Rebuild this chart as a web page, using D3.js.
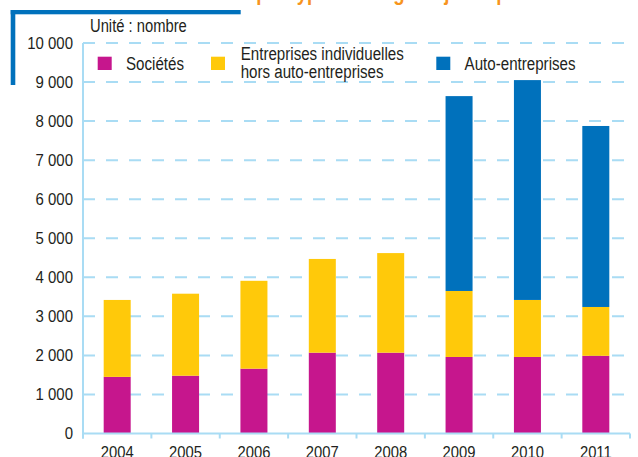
<!DOCTYPE html>
<html>
<head>
<meta charset="utf-8">
<script src="https://cdn.jsdelivr.net/npm/d3@7"></script>
<style>
    body { margin: 0; background: #fff; }
    svg { display: block; font-family: "Liberation Sans", Arial, sans-serif; }
</style>
</head>
<body>
<div id="chart"></div>
<script>
// Data (Unité : nombre)
var years            = ["2004", "2005", "2006", "2007", "2008", "2009", "2010", "2011"];
var societes         = [1450, 1480, 1660, 2070, 2070, 1960, 1960, 1990];
var entreprisesIndiv = [1970, 2100, 2250, 2400, 2550, 1690, 1460, 1250];
var autoEntreprises  = [0, 0, 0, 0, 0, 4990, 5630, 4635];
var yTicks           = [0, 1000, 2000, 3000, 4000, 5000, 6000, 7000, 8000, 9000, 10000];
var seriesKeys       = ["societes", "indiv", "auto"];
var seriesLabels     = [["Sociétés"], ["Entreprises individuelles", "hors auto-entreprises"], ["Auto-entreprises"]];
var titleText        = "Évolution des créations par type et catégorie juridique";
var unitText         = "Unité : nombre";

var colors = {societes: "#c6168d", indiv: "#ffc90a", auto: "#0071bc"};
var lightBlue = "#a9dcf4";
var textColor = "#231f20";

var width = 638, height = 457;
var margin = {top: 43, right: 8, bottom: 23, left: 83};

var svg = d3.select("#chart").append("svg")
    .attr("width", width)
    .attr("height", height);

// table for the stack layout
var table = years.map(function(y, i) {
    return {year: y, societes: societes[i], indiv: entreprisesIndiv[i], auto: autoEntreprises[i]};
});
var stacked = d3.stack().keys(seriesKeys)(table);

var x = d3.scaleBand()
    .domain(years)
    .range([margin.left, width - margin.right])
    .paddingInner(0.605)
    .paddingOuter(0.3025);

var y = d3.scaleLinear()
    .domain([0, 10000])
    .range([height - margin.bottom - 0.5, margin.top]);

var fr = d3.formatLocale({decimal: ",", thousands: " ", grouping: [3], currency: ["", "€"]});

// The original uses a narrow sans; squeeze each text horizontally instead.
function condense(sel, k) {
    sel.each(function() {
        var len = this.getComputedTextLength();
        d3.select(this)
            .attr("textLength", len * k)
            .attr("lengthAdjust", "spacingAndGlyphs");
    });
}

//Title (cut off at the top of the picture)
svg.append("text")
    .attr("x", 40)
    .attr("y", 0)
    .attr("fill", "#f7941d")
    .attr("font-weight", "bold")
    .attr("font-size", 22)
    .text(titleText)
    .call(condense, 0.85);

//Blue corner mark
svg.append("rect").attr("x", 10.7).attr("y", 10).attr("width", 4.6).attr("height", 75).attr("fill", "#0071bc");
svg.append("rect").attr("x", 10.7).attr("y", 10).attr("width", 230).attr("height", 4.3).attr("fill", "#0071bc");

//Unit label
svg.append("text")
    .attr("x", 90)
    .attr("y", 31.5)
    .attr("font-size", 18)
    .attr("fill", textColor)
    .text(unitText)
    .call(condense, 0.82);

//Dashed gridlines
svg.append("g").selectAll("line")
    .data(yTicks.filter(function(d) { return d > 0; }))
    .join("line")
    .attr("x1", margin.left)
    .attr("x2", width - margin.right)
    .attr("y1", function(d) { return y(d); })
    .attr("y2", function(d) { return y(d); })
    .attr("stroke", lightBlue)
    .attr("stroke-width", 2)
    .attr("stroke-dasharray", "12,11");

//Y axis labels
var yAxis = d3.axisLeft(y)
    .tickValues(yTicks)
    .tickSize(0)
    .tickPadding(10)
    .tickFormat(fr.format(","));

svg.append("g")
    .attr("transform", "translate(" + margin.left + ",0)")
    .call(yAxis)
    .call(function(g) { g.select(".domain").remove(); })
    .selectAll("text")
    .attr("font-family", null)
    .attr("font-size", 17)
    .attr("fill", textColor)
    .call(condense, 0.88);

//Bars
svg.append("g").selectAll("g")
    .data(stacked)
    .join("g")
    .attr("fill", function(d) { return colors[d.key]; })
    .selectAll("rect")
    .data(function(d) { return d.filter(function(v) { return v[1] > v[0]; }); })
    .join("rect")
    .attr("x", function(d) { return x(d.data.year); })
    .attr("width", x.bandwidth())
    .attr("y", function(d) { return y(d[1]); })
    .attr("height", function(d) { return y(d[0]) - y(d[1]); });

//Axis lines
var y0 = y(0);
svg.append("line")
    .attr("x1", margin.left).attr("x2", margin.left)
    .attr("y1", y(10000)).attr("y2", y0 + 5)
    .attr("stroke", lightBlue).attr("stroke-width", 2);
svg.append("line")
    .attr("x1", margin.left).attr("x2", width - margin.right)
    .attr("y1", y0).attr("y2", y0)
    .attr("stroke", lightBlue).attr("stroke-width", 2);

// tick marks at band boundaries
var bounds = years.map(function(d) { return x(d) - x.step() * x.paddingInner() / 2; });
bounds.push(width - margin.right);
svg.append("g").selectAll("line")
    .data(bounds)
    .join("line")
    .attr("x1", function(d) { return d; })
    .attr("x2", function(d) { return d; })
    .attr("y1", y0)
    .attr("y2", y0 + 5)
    .attr("stroke", lightBlue)
    .attr("stroke-width", 2);

//X axis labels
var xAxis = d3.axisBottom(x).tickSize(0).tickPadding(12);
svg.append("g")
    .attr("transform", "translate(0," + y0 + ")")
    .call(xAxis)
    .call(function(g) { g.select(".domain").remove(); })
    .selectAll("text")
    .attr("font-family", null)
    .attr("font-size", 17)
    .attr("fill", textColor)
    .call(condense, 0.87);

//Legend
var legendX = [97.7, 211, 436.3];
var legend = svg.append("g").selectAll("g")
    .data(seriesKeys)
    .join("g")
    .attr("transform", function(d, i) { return "translate(" + legendX[i] + ",56.7)"; });

legend.append("rect")
    .attr("width", 14)
    .attr("height", 13.3)
    .attr("fill", function(d) { return colors[d]; });

legend.each(function(key, i) {
    var lines = seriesLabels[i];
    d3.select(this).selectAll("text")
        .data(lines)
        .join("text")
        .attr("x", i === 1 ? 29.7 : 28.3)
        .attr("y", function(d, j) { return lines.length > 1 ? 3.5 + j * 17.5 : 13.3; })
        .attr("font-size", 18)
        .attr("fill", textColor)
        .text(function(d) { return d; })
        .call(condense, 0.84);
});
</script>
</body>
</html>
